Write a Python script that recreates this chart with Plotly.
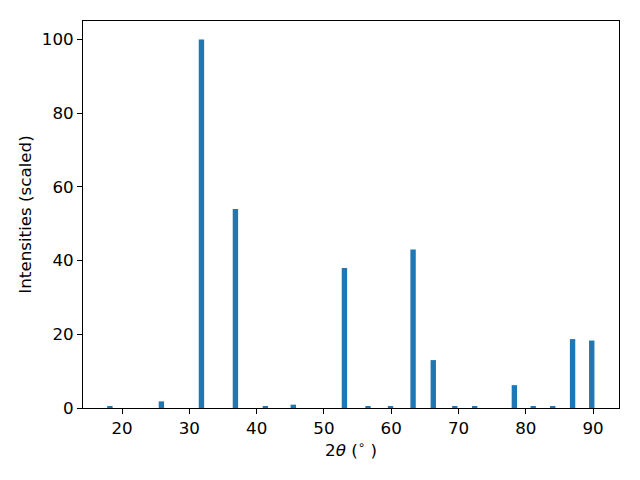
import plotly.graph_objects as go

two_theta = [18.2, 25.85, 31.8, 36.85, 41.3, 45.45, 53.05, 56.55, 59.9, 63.25, 66.25,
             69.45, 72.4, 78.3, 81.1, 84.0, 86.95, 89.8]
intensity = [0.5, 1.8, 100, 54, 0.5, 0.9, 38, 0.3, 0.5, 43, 13,
             0.3, 0.5, 6.2, 0.3, 0.3, 18.7, 18.3]

fig = go.Figure(go.Bar(x=two_theta, y=intensity, width=0.8,
                       marker=dict(color="#1f77b4", line=dict(width=0))))

font = dict(family="DejaVu Sans", size=16.7, color="black")
axis_common = dict(showgrid=False, zeroline=False, showline=True, linecolor="black",
                   linewidth=1, mirror=True, ticks="outside", ticklen=5, tickwidth=1,
                   tickcolor="black", tickfont=font)
fig.update_layout(
    width=640, height=480,
    margin=dict(l=75, r=29, t=13, b=80),
    plot_bgcolor="white", paper_bgcolor="white",
    showlegend=False,
    font=font,
    xaxis=dict(range=[14.2, 93.85], tickvals=[20, 30, 40, 50, 60, 70, 80, 90],
               title=dict(text="2<i>θ</i> (<sup>∘</sup> )", font=font, standoff=7), **axis_common),
    yaxis=dict(range=[0, 105], tickvals=[0, 20, 40, 60, 80, 100],
               title=dict(text="Intensities (scaled)", font=font, standoff=5), **axis_common),
)
fig.write_html("out.html")
